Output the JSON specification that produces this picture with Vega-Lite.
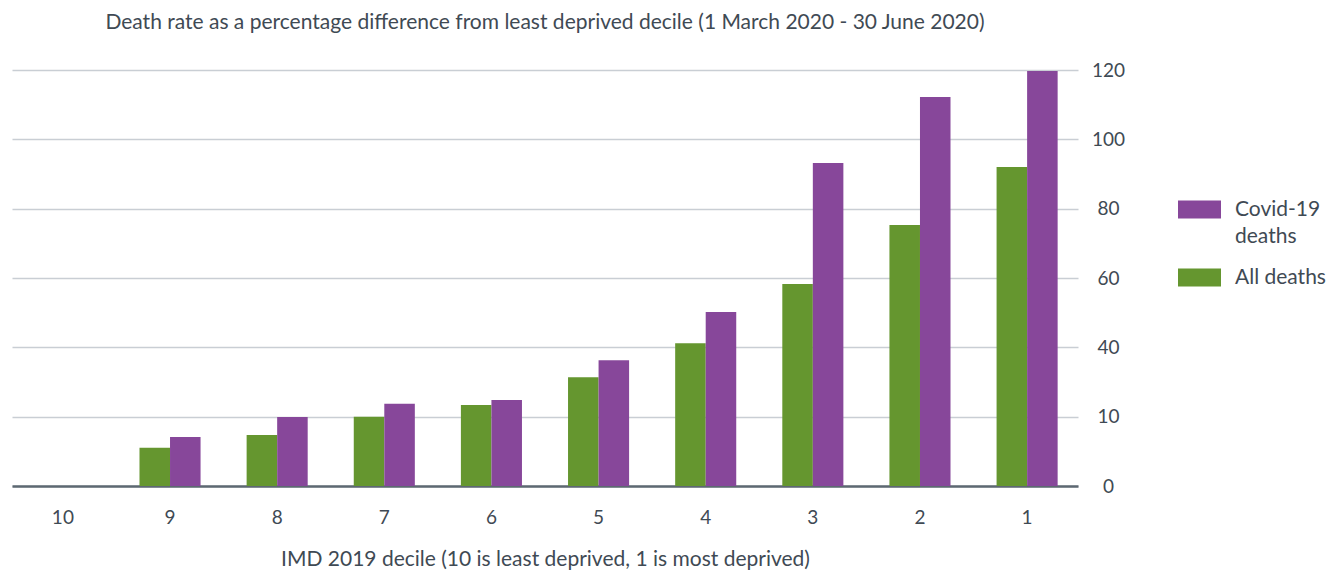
{
  "$schema": "https://vega.github.io/schema/vega-lite/v6.json",
  "width": 1066,
  "height": 416,
  "autosize": "none",
  "padding": {"left": 12, "top": 70, "right": 258, "bottom": 84},
  "background": "white",
  "config": {
    "view": {"stroke": null},
    "font": "Lato",
    "text": {"font": "Lato"}
  },
  "title": {
    "text": "Death rate as a percentage difference from least deprived decile (1 March 2020 - 30 June 2020)",
    "font": "Lato",
    "fontSize": 21,
    "fontWeight": "normal",
    "color": "#3f4a54",
    "anchor": "middle",
    "offset": 28
  },
  "data": {
    "values": [
      {"decile": "10", "series": "All deaths", "value": 0},
      {"decile": "10", "series": "Covid-19 deaths", "value": 0},
      {"decile": "9", "series": "All deaths", "value": 11.0},
      {"decile": "9", "series": "Covid-19 deaths", "value": 14.1},
      {"decile": "8", "series": "All deaths", "value": 14.7},
      {"decile": "8", "series": "Covid-19 deaths", "value": 19.9},
      {"decile": "7", "series": "All deaths", "value": 20.0},
      {"decile": "7", "series": "Covid-19 deaths", "value": 23.7},
      {"decile": "6", "series": "All deaths", "value": 23.4},
      {"decile": "6", "series": "Covid-19 deaths", "value": 24.8},
      {"decile": "5", "series": "All deaths", "value": 31.4},
      {"decile": "5", "series": "Covid-19 deaths", "value": 36.3},
      {"decile": "4", "series": "All deaths", "value": 41.2},
      {"decile": "4", "series": "Covid-19 deaths", "value": 50.2},
      {"decile": "3", "series": "All deaths", "value": 58.3},
      {"decile": "3", "series": "Covid-19 deaths", "value": 93.2},
      {"decile": "2", "series": "All deaths", "value": 75.3},
      {"decile": "2", "series": "Covid-19 deaths", "value": 112.2},
      {"decile": "1", "series": "All deaths", "value": 92.0},
      {"decile": "1", "series": "Covid-19 deaths", "value": 119.7}
    ]
  },
  "mark": {"type": "bar"},
  "encoding": {
    "x": {
      "field": "decile",
      "type": "nominal",
      "sort": ["10", "9", "8", "7", "6", "5", "4", "3", "2", "1"],
      "scale": {"paddingInner": 0.43, "paddingOuter": 0.19},
      "axis": {
        "title": "IMD 2019 decile (10 is least deprived, 1 is most deprived)",
        "titleFont": "Lato",
        "titleFontSize": 21,
        "titleFontWeight": "normal",
        "titleColor": "#3f4a54",
        "titlePadding": 21,
        "labelAngle": 0,
        "labelFont": "Lato",
        "labelFontSize": 19,
        "labelColor": "#3f4a54",
        "labelPadding": 22,
        "ticks": false,
        "domain": true,
        "domainColor": "#5d6872",
        "domainWidth": 2.5,
        "grid": false
      }
    },
    "xOffset": {
      "field": "series",
      "type": "nominal",
      "sort": ["All deaths", "Covid-19 deaths"],
      "scale": {"paddingInner": 0, "paddingOuter": 0}
    },
    "y": {
      "field": "value",
      "type": "quantitative",
      "scale": {"domain": [0, 120], "nice": false},
      "axis": {
        "orient": "right",
        "title": null,
        "values": [0, 20, 40, 60, 80, 100, 120],
        "labelExpr": "datum.value == 20 ? '10' : datum.label",
        "labelFont": "Lato",
        "labelFontSize": 19,
        "labelColor": "#3f4a54",
        "labelAlign": "center",
        "labelPadding": 30,
        "ticks": false,
        "domain": false,
        "grid": true,
        "gridColor": "#c9ced4",
        "gridWidth": 1.5
      }
    },
    "color": {
      "field": "series",
      "type": "nominal",
      "scale": {
        "domain": ["Covid-19 deaths", "All deaths"],
        "range": ["#87479a", "#65962f"]
      },
      "legend": {
        "title": null,
        "orient": "none",
        "legendX": 1166,
        "legendY": 118,
        "symbolType": "M-1,-0.42H1V0.42H-1Z",
        "symbolSize": 1849,
        "symbolStrokeWidth": 0,
        "symbolOpacity": 1,
        "labelExpr": "datum.label == 'Covid-19 deaths' ? ['Covid-19', 'deaths'] : datum.label",
        "labelFont": "Lato",
        "labelFontSize": 21,
        "labelColor": "#3f4a54",
        "labelOffset": 14,
        "labelLimit": 200,
        "rowPadding": 9,
        "encode": {
          "labels": {"update": {"lineHeight": {"value": 27}}}
        }
      }
    }
  }
}
